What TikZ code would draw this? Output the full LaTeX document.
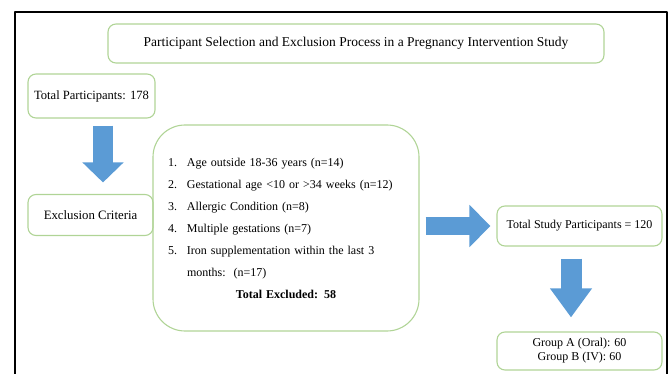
\documentclass[tikz,border=0pt]{standalone}
\usepackage{fontspec}
\setmainfont{Liberation Serif}
\usetikzlibrary{arrows.meta}
\definecolor{boxgreen}{RGB}{176,212,150}
\definecolor{arrowblue}{RGB}{91,155,213}
\begin{document}
\begin{tikzpicture}[x=1pt, y=-1pt, font=\fontsize{12}{14}\selectfont, line join=round,
  box/.style={draw=boxgreen, line width=1.1pt, rounded corners=8pt, align=center, inner sep=0pt},
  fat/.style={arrowblue, line width=20pt, -{Triangle[width=40pt,length=20pt]}}]
\useasboundingbox (0,0) rectangle (671,374);
\clip (0,0) rectangle (671,374);
\draw[line width=1.8pt] (15,12) rectangle (667,400);
\node[box, minimum width=496pt, minimum height=39pt, font=\fontsize{13.5}{16}\selectfont] (title) at (356,43.5) {Participant Selection and Exclusion Process in a Pregnancy Intervention Study};
\node[box, minimum width=127pt, minimum height=44pt, font=\fontsize{12.6}{15}\selectfont] (total) at (91.5,96) {Total Participants: 178};
\node[box, minimum width=125pt, minimum height=41pt, font=\fontsize{12.8}{15}\selectfont] (excl) at (90.5,215) {Exclusion Criteria};
\node[box, rounded corners=32pt, minimum height=206pt, text width=236pt, inner xsep=15pt, align=left, font=\fontsize{12}{22}\selectfont] (crit) at (286,228) {%
\makebox[19pt][l]{1.}Age outside 18-36 years (n=14)\\
\makebox[19pt][l]{2.}Gestational age <10 or >34 weeks (n=12)\\
\makebox[19pt][l]{3.}Allergic Condition (n=8)\\
\makebox[19pt][l]{4.}Multiple gestations (n=7)\\
\makebox[19pt][l]{5.}Iron supplementation within the last 3\\
\hspace*{19pt}months:\ \ (n=17)\\
\makebox[236pt]{\textbf{Total Excluded: 58}}};
\node[box, minimum width=165pt, minimum height=40pt] (study) at (579.5,226) {Total Study Participants = 120};
\node[box, minimum width=165pt, minimum height=38pt] (groups) at (579.5,351) {Group A (Oral): 60\\Group B (IV): 60};
\draw[fat] ([xshift=11.5pt,yshift=-7pt]total.south) -- ([xshift=12.5pt,yshift=11.5pt]excl.north);
\draw[fat, line width=18pt, -{Triangle[width=41pt,length=21pt]}] ([xshift=6pt,yshift=2pt]crit.east) -- ([xshift=-6pt]study.west);
\draw[fat, line width=21pt, -{Triangle[width=40pt,length=29pt]}] ([xshift=-8.5pt,yshift=-12pt]study.south) -- ([xshift=-8.5pt,yshift=14pt]groups.north);
\end{tikzpicture}
\end{document}
